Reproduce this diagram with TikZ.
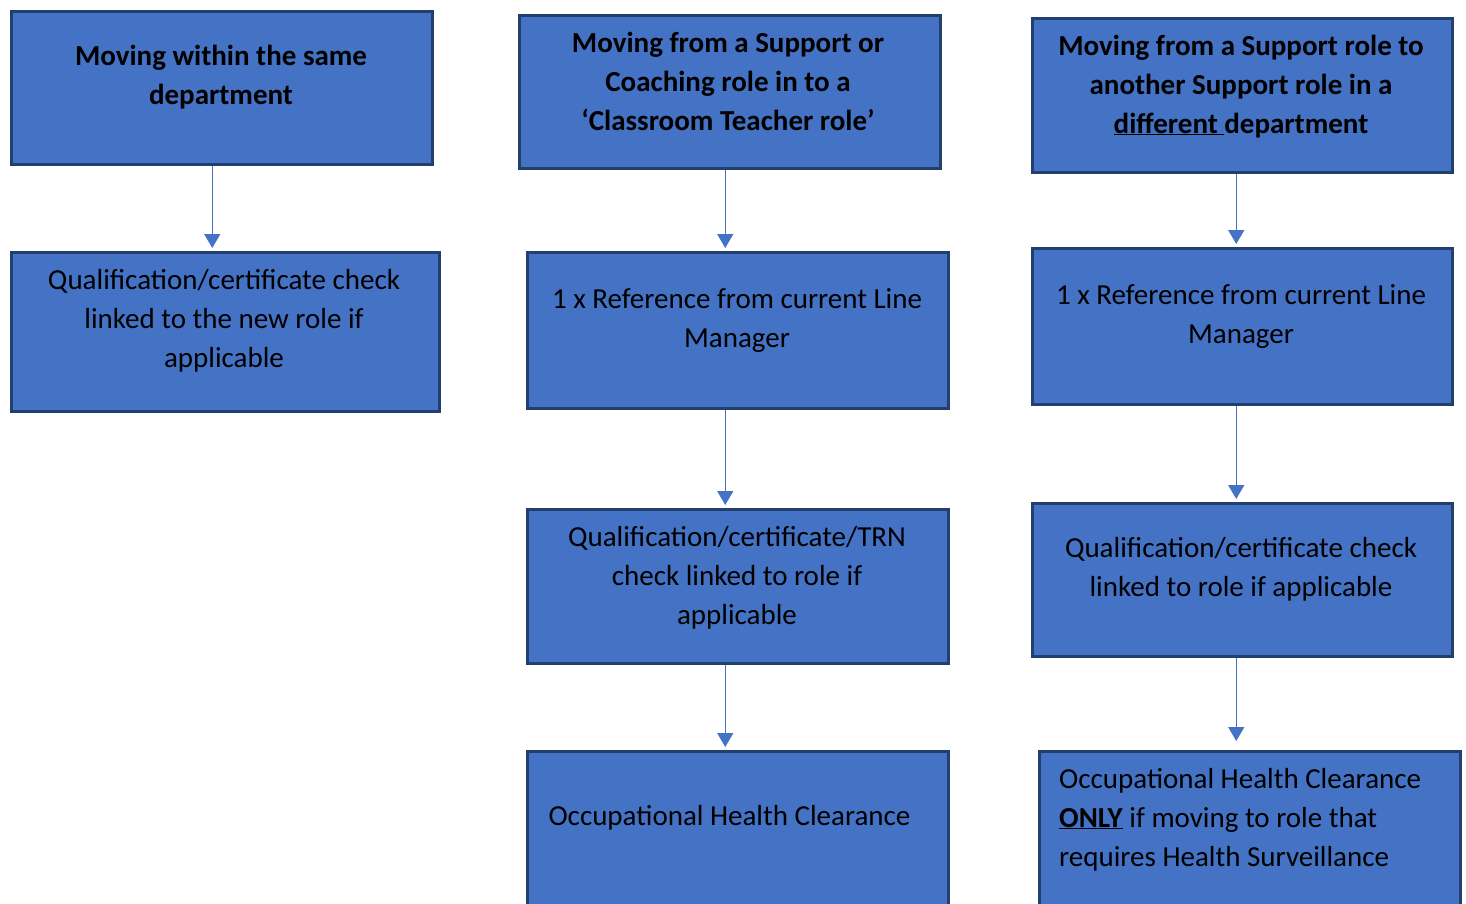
\documentclass[tikz,border=0pt]{standalone}
\usepackage{fontspec}
\setmainfont{Carlito}
\usetikzlibrary{arrows.meta}

\definecolor{boxfill}{HTML}{4472C4}
\definecolor{boxline}{HTML}{233F6E}

\tikzset{
  box/.style={draw=boxline, line width=2.5pt, fill=boxfill, anchor=north west, inner sep=0pt, minimum width=421pt},
  txt/.style={anchor=base, align=center, inner sep=0pt, font=\fontsize{29}{39}\selectfont},
  flow/.style={-{Triangle[length=14pt,width=16pt]}, line width=1.5pt, draw=boxfill, shorten >=3pt}
}

\begin{document}
\begin{tikzpicture}[x=1pt,y=-1pt]
			\useasboundingbox (0,0) rectangle (1466,903);
			% Same department
			\node[box, minimum height=153pt] (c1a) at (10,10) {};
			\node[box, minimum width=428pt, minimum height=159pt] (c1b) at (10,251) {};
			% text nodes sit on the baseline of their last line
			\node[txt, font=\fontsize{29}{39}\selectfont\bfseries] (t1a) at (221,104) {Moving within the same\\department};
			\node[txt] (t1b) at (224,367) {Qualification/certificate check\\linked to the new role if\\applicable};
			\draw[flow] ([xshift=-9.5pt]c1a.south) -- ([xshift=-9.5pt]c1a.south |- c1b.north);
			% Support to Classroom Teacher
			\node[box, minimum height=153pt] (c2a) at (518,14) {};
			\node[box, minimum height=156pt] (c2b) at (526,251) {};
			\node[box, minimum height=154pt] (c2c) at (526,508) {};
			\node[box, minimum height=200pt] (c2d) at (526,750) {};
			\node[txt, font=\fontsize{29}{39}\selectfont\bfseries] (t2a) at (728,130) {Moving from a Support or\\Coaching role in to a\\‘Classroom Teacher role’};
			\node[txt] (t2b) at (737,347) {1 x Reference from current Line\\Manager};
			\node[txt] (t2c) at (737,624) {Qualification/certificate/TRN\\check linked to role if\\applicable};
			\node[txt] (t2d) at (729.5,825) {Occupational Health Clearance};
			\draw[flow] ([xshift=-4.5pt]c2a.south) -- ([xshift=-4.5pt]c2a.south |- c2b.north);
			\draw[flow] ([xshift=-12.5pt]c2b.south) -- ([xshift=-12.5pt]c2b.south |- c2c.north);
			\draw[flow] ([xshift=-12.5pt]c2c.south) -- ([xshift=-12.5pt]c2c.south |- c2d.north);
			% Support to Support, other department
			\node[box, minimum width=420pt, minimum height=154pt] (c3a) at (1031,17) {};
			\node[box, minimum width=420pt, minimum height=156pt] (c3b) at (1031,247) {};
			\node[box, minimum width=420pt, minimum height=153pt] (c3c) at (1031,502) {};
			\node[box, minimum height=200pt] (c3d) at (1038,750) {};
			\node[txt, font=\fontsize{29}{39}\selectfont\bfseries] (t3a) at (1241,133) {Moving from a Support role to\\another Support role in a\\\underline{different\ }department};
			\node[txt] (t3b) at (1241,343) {1 x Reference from current Line\\Manager};
			\node[txt] (t3c) at (1241,596) {Qualification/certificate check\\linked to role if applicable};
			\node[txt, anchor=base west, align=left] (t3d) at (1059,866) {Occupational Health Clearance\\\underline{\textbf{ONLY}} if moving to role that\\requires Health Surveillance};
			\draw[flow] ([xshift=-6pt]c3a.south) -- ([xshift=-6pt]c3a.south |- c3b.north);
			\draw[flow] ([xshift=-6pt]c3b.south) -- ([xshift=-6pt]c3b.south |- c3c.north);
			\draw[flow, shorten >=9pt] ([xshift=-6pt]c3c.south) -- ([xshift=-6pt]c3c.south |- c3d.north);
		\end{tikzpicture}
\end{document}
